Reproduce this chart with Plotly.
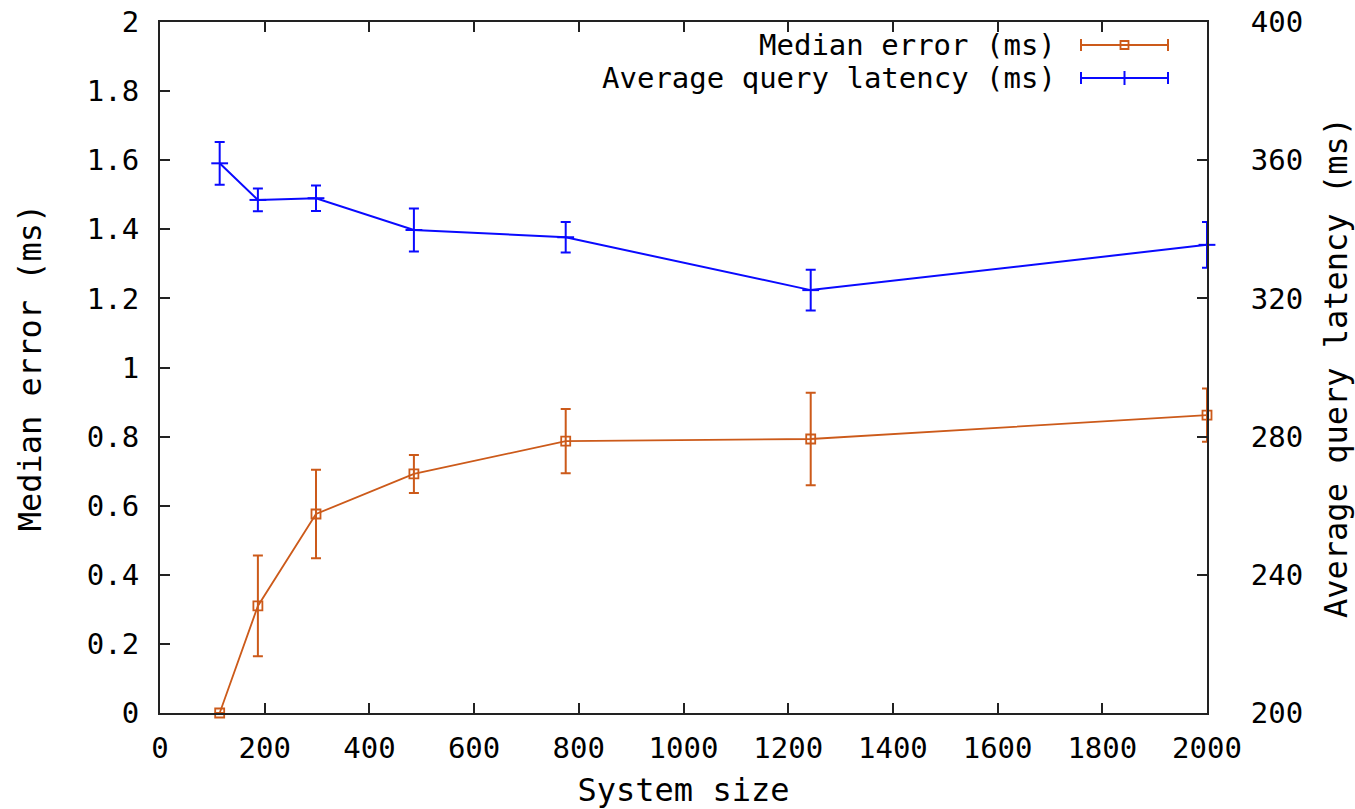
import plotly.graph_objects as go

# System sizes (x) shared by both series
system_size = [114, 187, 298, 485, 775, 1243, 2000]

# Median error (ms), left axis, with symmetric error
median_error = [0.0, 0.31, 0.576, 0.692, 0.787, 0.793, 0.862]
median_error_err = [0.0, 0.146, 0.128, 0.055, 0.093, 0.134, 0.077]

# Average query latency (ms), right axis, with symmetric error
latency = [359.1, 348.5, 349.0, 339.8, 337.7, 322.4, 335.5]
latency_err = [6.2, 3.3, 3.7, 6.2, 4.4, 5.9, 6.6]

ORANGE = "#cc5a1a"
BLUE = "#0a0aff"
FONT = "DejaVu Sans Mono"
TICK_SIZE = 29
TEXT_SIZE = 32
KEY_SIZE = 29

W, H = 1355, 809
L, R, T, B = 160, 148, 22, 96
PW, PH = W - L - R, H - T - B


def px(x):
    return (x - L) / PW


def py(y):
    return (H - B - y) / PH


fig = go.Figure()

fig.add_trace(go.Scatter(
    x=system_size, y=median_error, mode="lines+markers",
    line=dict(color=ORANGE, width=1.8),
    marker=dict(symbol="square-open", size=9, color=ORANGE, line=dict(width=1.8, color=ORANGE)),
    error_y=dict(type="data", array=median_error_err, visible=True, color=ORANGE, thickness=2, width=5),
    cliponaxis=False, showlegend=False, yaxis="y",
))

fig.add_trace(go.Scatter(
    x=system_size, y=latency, mode="lines+markers",
    line=dict(color=BLUE, width=2),
    marker=dict(symbol="line-ew", size=12, color=BLUE, line=dict(width=2, color=BLUE)),
    error_y=dict(type="data", array=latency_err, visible=True, color=BLUE, thickness=2, width=5),
    cliponaxis=False, showlegend=False, yaxis="y2",
))

# Hand-drawn key: right-aligned labels followed by error-bar samples
shapes = []
annotations = []
key_rows = [
    ("Median error (ms)", ORANGE, 45, "square"),
    ("Average query latency (ms)", BLUE, 78, "plus"),
]
x0, x1 = 1081, 1168
xm = (x0 + x1) / 2
for label, color, yrow, kind in key_rows:
    annotations.append(dict(
        x=px(1058), y=py(yrow), xref="paper", yref="paper", text=label,
        showarrow=False, xanchor="right", yanchor="middle",
        font=dict(family=FONT, size=KEY_SIZE, color="black"),
    ))
    shapes.append(dict(type="line", xref="paper", yref="paper",
                       x0=px(x0), x1=px(x1), y0=py(yrow), y1=py(yrow),
                       line=dict(color=color, width=2)))
    for xc in (x0, x1):
        shapes.append(dict(type="line", xref="paper", yref="paper",
                           x0=px(xc), x1=px(xc), y0=py(yrow - 6), y1=py(yrow + 6),
                           line=dict(color=color, width=2)))
    if kind == "square":
        shapes.append(dict(type="rect", xref="paper", yref="paper",
                           x0=px(xm - 4), x1=px(xm + 4), y0=py(yrow - 4), y1=py(yrow + 4),
                           line=dict(color=color, width=1.8)))
    else:
        shapes.append(dict(type="line", xref="paper", yref="paper",
                           x0=px(xm), x1=px(xm), y0=py(yrow - 7), y1=py(yrow + 7),
                           line=dict(color=color, width=2)))

axis_common = dict(
    ticks="inside", ticklen=10, tickwidth=2, tickcolor="#222",
    showline=True, linecolor="#222", linewidth=2,
    showgrid=False, zeroline=False, automargin=False,
    tickfont=dict(family=FONT, size=TICK_SIZE, color="black"),
)

fig.update_layout(
    width=W, height=H,
    margin=dict(l=L, r=R, t=T, b=B, pad=0, autoexpand=False),
    paper_bgcolor="white", plot_bgcolor="white",
    font=dict(family=FONT, size=TICK_SIZE, color="black"),
    showlegend=False,
    shapes=shapes,
    annotations=annotations,
    xaxis=dict(
        range=[0, 2000], tickvals=list(range(0, 2001, 200)),
        mirror="ticks", ticklabelstandoff=8,
        title=dict(text="System size", font=dict(family=FONT, size=TEXT_SIZE, color="black"), standoff=22),
        **axis_common,
    ),
    yaxis=dict(
        range=[0, 2], tickvals=[0, 0.2, 0.4, 0.6, 0.8, 1, 1.2, 1.4, 1.6, 1.8, 2],
        ticktext=["0", "0.2", "0.4", "0.6", "0.8", "1", "1.2", "1.4", "1.6", "1.8", "2"],
        ticklabelstandoff=13,
        title=dict(text="Median error (ms)", font=dict(family=FONT, size=TEXT_SIZE, color="black"), standoff=36),
        **axis_common,
    ),
    yaxis2=dict(
        range=[200, 400], tickvals=[200, 240, 280, 320, 360, 400],
        overlaying="y", side="right", ticklabelstandoff=36,
        title=dict(text="Average query latency (ms)", font=dict(family=FONT, size=TEXT_SIZE, color="black"), standoff=22),
        **axis_common,
    ),
)

fig.write_html("out.html")
